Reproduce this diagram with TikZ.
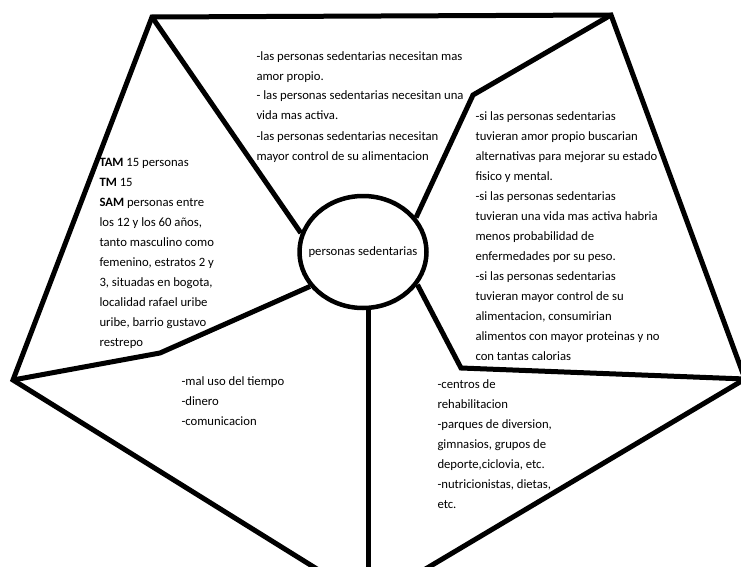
\documentclass[tikz,border=0pt]{standalone}
\usepackage{fontspec}
\setmainfont{Carlito}
\usetikzlibrary{shapes.geometric}
\newcommand{\txtsize}{\fontsize{12.7pt}{20pt}\selectfont}
\newcommand{\edgewd}{5pt}
\newcommand{\ellwd}{127pt}
\newcommand{\ellht}{112pt}

\begin{document}
\begin{tikzpicture}[x=1pt, y=-1pt, line width=\edgewd,
    txt/.style={anchor=base west, align=left, inner sep=0pt, font=\txtsize},
    hub/.style={ellipse, draw, line width=4.5pt, inner sep=0pt,
      minimum width=\ellwd, minimum height=\ellht}]
  \useasboundingbox (0,0) rectangle (741,567);
  \clip (0,0) rectangle (741,567);

  % pentagon corners
  \coordinate (ptl) at (152,17);
  \coordinate (ptr) at (611,15);
  \coordinate (prt) at (745,379);
  \coordinate (pbt) at (370,602);
  \coordinate (plf) at (13,380);
  % bends of the spokes
  \coordinate (bendtr) at (473,95);
  \coordinate (bendlf) at (160,353);
  \coordinate (bendrt) at (461,368);

  % centre
  \node (hub) at (363,252) [hub,
    label={[name=hubtxt, font=\txtsize]center:personas sedentarias}] {};

  % outline
  \draw (ptl) -- (ptr) -- (prt) -- (pbt) -- (plf) -- cycle;
  % spokes
  \draw (hub.163) -- (ptl);
  \draw (hub.33) -- (bendtr) -- (ptr);
  \draw (hub.213) -- (bendlf) -- (plf);
  \draw (hub.329) -- (bendrt) -- (prt);
  \draw (hub.south -| 368,0) -- (pbt -| 368,0);

  % texts (placed by the baseline of their last line)
  \node (needs) at (254,160) [txt] {-las personas sedentarias necesitan mas\\
    amor propio.\\
    - las personas sedentarias necesitan una\\
    vida mas activa.\\
    -las personas sedentarias necesitan\\
    mayor control de su alimentacion};
  \node (sample) at (97,346) [txt] {\textbf{TAM} 15 personas\\
    \textbf{TM} 15\\
    \textbf{SAM} personas entre\\
    los 12 y los 60 años,\\
    tanto masculino como\\
    femenino, estratos 2 y\\
    3, situadas en bogota,\\
    localidad rafael uribe\\
    uribe, barrio gustavo\\
    restrepo};
  \node (ifs) at (473,360) [txt] {-si las personas sedentarias\\
    tuvieran amor propio buscarian\\
    alternativas para mejorar su estado\\
    fisico y mental.\\
    -si las personas sedentarias\\
    tuvieran una vida mas activa habria\\
    menos probabilidad de\\
    enfermedades por su peso.\\
    -si las personas sedentarias\\
    tuvieran mayor control de su\\
    alimentacion, consumirian\\
    alimentos con mayor proteinas y no\\
    con tantas calorias};
  \node (causes) at (179,425) [txt] {-mal uso del tiempo\\
    -dinero\\
    -comunicacion};
  \node (helps) at (435,508) [txt] {-centros de\\
    rehabilitacion\\
    -parques de diversion,\\
    gimnasios, grupos de\\
    deporte,ciclovia, etc.\\
    -nutricionistas, dietas,\\
    etc.};
\end{tikzpicture}
\end{document}
